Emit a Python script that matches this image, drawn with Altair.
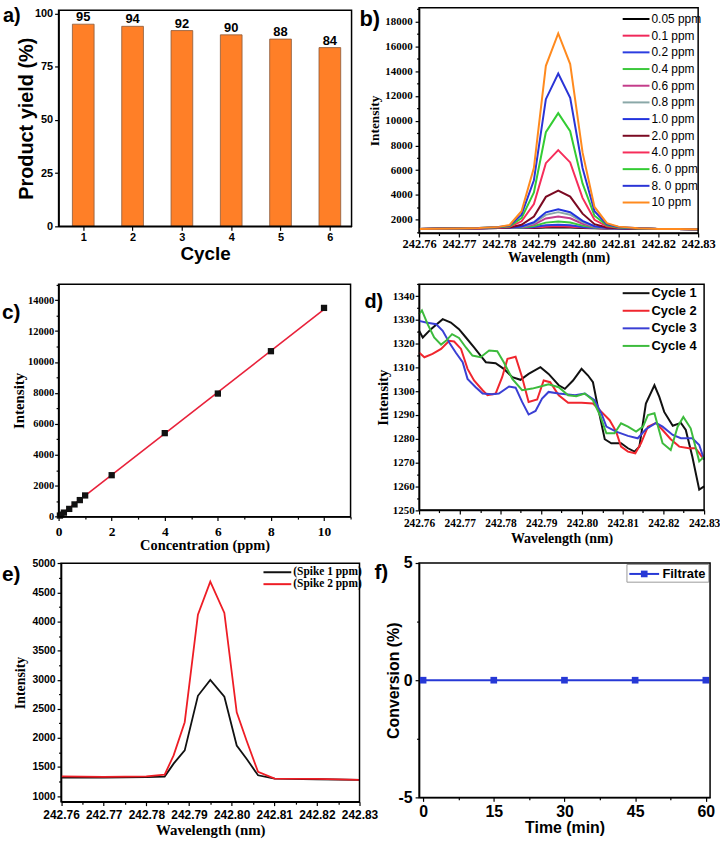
import altair as alt
import pandas as pd

SANS = "Liberation Sans"
SERIF = "Liberation Serif"

# ---------------- (a) recycling ----------------
cycles = [1, 2, 3, 4, 5, 6]
yields = [95, 94, 92, 90, 88, 84]

# ---------------- (b) spectra at several concentrations ----------------
wl_b = [242.760, 242.765, 242.770, 242.775, 242.780, 242.7827, 242.7857, 242.7888,
        242.7918, 242.7949, 242.7979, 242.8010, 242.8040, 242.8071, 242.810, 242.815,
        242.820, 242.825, 242.830]
conc_names = ["0.05 ppm", "0.1 ppm", "0.2 ppm", "0.4 ppm", "0.6 ppm", "0.8 ppm",
              "1.0 ppm", "2.0 ppm", "4.0 ppm", "6. 0 ppm", "8. 0 ppm", "10 ppm"]
conc_colors = ["#000000", "#f0285a", "#2b3de0", "#3cc83c", "#c43c8a", "#8aa8a8",
               "#2233dd", "#7b0a22", "#f62d5a", "#33cc33", "#2a34d6", "#ff8a1e"]
b_0p05 = [1250, 1260, 1280, 1300, 1330, 1330, 1325, 1335, 1365, 1380, 1365, 1330, 1310, 1290, 1280, 1260, 1250, 1240, 1230]
b_0p1 = [1250, 1260, 1280, 1300, 1330, 1330, 1335, 1360, 1435, 1460, 1435, 1360, 1320, 1295, 1280, 1260, 1250, 1240, 1230]
b_0p2 = [1250, 1260, 1280, 1300, 1330, 1335, 1345, 1405, 1550, 1600, 1555, 1415, 1335, 1300, 1280, 1260, 1250, 1240, 1230]
b_0p4 = [1250, 1260, 1280, 1300, 1335, 1340, 1370, 1485, 1765, 1860, 1770, 1520, 1360, 1305, 1285, 1260, 1250, 1240, 1230]
b_0p6 = [1250, 1260, 1280, 1300, 1335, 1345, 1405, 1610, 2105, 2265, 2115, 1675, 1405, 1315, 1290, 1260, 1250, 1240, 1230]
b_0p8 = [1250, 1260, 1280, 1300, 1340, 1350, 1435, 1715, 2395, 2610, 2405, 1810, 1445, 1325, 1295, 1260, 1250, 1240, 1230]
b_1p0 = [1250, 1260, 1280, 1300, 1340, 1355, 1455, 1790, 2595, 2850, 2605, 1905, 1470, 1330, 1295, 1260, 1250, 1240, 1230]
b_2p0 = [1250, 1260, 1280, 1305, 1350, 1375, 1585, 2255, 3845, 4350, 3870, 2490, 1635, 1370, 1310, 1270, 1250, 1240, 1230]
b_4p0 = [1250, 1260, 1280, 1315, 1370, 1425, 1870, 3270, 6570, 7620, 6630, 3765, 1995, 1460, 1345, 1280, 1250, 1240, 1230]
b_6p0 = [1250, 1260, 1280, 1320, 1385, 1470, 2130, 4200, 9070, 10610, 9150, 4930, 2320, 1540, 1375, 1290, 1250, 1240, 1230]
b_8p0 = [1250, 1260, 1280, 1325, 1405, 1520, 2410, 5190, 11740, 13820, 11850, 6180, 2680, 1630, 1405, 1300, 1250, 1240, 1230]
b_10 = [1250, 1260, 1280, 1330, 1420, 1570, 2690, 6190, 14440, 17050, 14580, 7440, 3030, 1720, 1440, 1310, 1250, 1240, 1230]
b_series = [b_0p05, b_0p1, b_0p2, b_0p4, b_0p6, b_0p8, b_1p0, b_2p0, b_4p0, b_6p0, b_8p0, b_10]

# ---------------- (c) calibration ----------------
conc_c = [0.05, 0.1, 0.2, 0.4, 0.6, 0.8, 1.0, 2.0, 4.0, 6.0, 8.0, 10.0]
int_c = [70, 130, 260, 500, 790, 1070, 1370, 2680, 5400, 7960, 10700, 13500]
fit_x = [0.0, 10.0]
fit_y = [20, 13400]

# ---------------- (d) leaching over cycles ----------------
d_names = ["Cycle 1", "Cycle 2", "Cycle 3", "Cycle 4"]
d_colors = ["#111111", "#f0262e", "#3a3fd4", "#3dbb3d"]
wl_d1 = [242.7600, 242.7609, 242.7629, 242.7658, 242.7678, 242.7698, 242.7715, 242.7735, 242.7751, 242.7764,
         242.7788, 242.7808, 242.7829, 242.7849, 242.7869, 242.7898, 242.7918, 242.7943, 242.7958, 242.7978,
         242.7999, 242.8015, 242.8027, 242.8039, 242.8056, 242.8072, 242.8096, 242.8113, 242.8129, 242.8141,
         242.8157, 242.8178, 242.8190, 242.8202, 242.8223, 242.8243, 242.8255, 242.8271, 242.8288, 242.8300]
int_d1 = [1325.4, 1322.6, 1326.1, 1330.3, 1328.9, 1326.1, 1322.6, 1318.4, 1315.0, 1312.2,
          1311.8, 1309.4, 1305.9, 1304.8, 1307.3, 1310.1, 1307.3, 1302.5, 1301.0, 1304.5,
          1309.4, 1306.6, 1303.8, 1293.4, 1279.8, 1278.1, 1278.1, 1276.0, 1274.6, 1276.7,
          1294.8, 1302.5, 1297.6, 1291.3, 1285.5, 1286.7, 1283.7, 1272.5, 1258.6, 1260.0]
wl_d2 = [242.7600, 242.7613, 242.7633, 242.7654, 242.7674, 242.7686, 242.7703, 242.7719, 242.7735, 242.7756,
         242.7768, 242.7788, 242.7804, 242.7817, 242.7837, 242.7853, 242.7869, 242.7890, 242.7906, 242.7922,
         242.7943, 242.7966, 242.7999, 242.8027, 242.8048, 242.8068, 242.8084, 242.8096, 242.8113, 242.8131,
         242.8145, 242.8162, 242.8182, 242.8198, 242.8218, 242.8239, 242.8263, 242.8279, 242.8300]
int_d2 = [1316.3, 1314.3, 1315.7, 1317.8, 1321.2, 1320.9, 1317.8, 1309.4, 1304.5, 1300.4,
          1298.3, 1299.0, 1305.9, 1313.6, 1314.5, 1305.9, 1295.5, 1296.5, 1304.5, 1303.8,
          1298.3, 1295.1, 1295.1, 1294.8, 1291.3, 1287.8, 1283.0, 1276.7, 1274.6, 1273.9,
          1278.1, 1285.1, 1286.7, 1283.7, 1279.8, 1276.7, 1276.0, 1276.0, 1271.2]
wl_d3 = [242.7600, 242.7617, 242.7642, 242.7658, 242.7674, 242.7690, 242.7707, 242.7719, 242.7739, 242.7756,
         242.7780, 242.7796, 242.7821, 242.7837, 242.7853, 242.7869, 242.7886, 242.7902, 242.7918, 242.7943,
         242.7983, 242.8007, 242.8031, 242.8048, 242.8060, 242.8084, 242.8113, 242.8137, 242.8157, 242.8182,
         242.8198, 242.8223, 242.8243, 242.8271, 242.8288, 242.8300]
int_d3 = [1329.6, 1328.9, 1328.2, 1325.4, 1320.5, 1316.3, 1312.2, 1305.2, 1301.7, 1299.0,
          1298.7, 1299.0, 1302.0, 1301.5, 1295.5, 1290.2, 1291.7, 1296.9, 1299.7, 1299.0,
          1298.3, 1299.0, 1296.2, 1290.6, 1285.1, 1283.0, 1281.2, 1280.2, 1284.0, 1286.7,
          1285.1, 1281.6, 1280.2, 1280.2, 1277.4, 1271.2]
wl_d4 = [242.7600, 242.7607, 242.7621, 242.7637, 242.7654, 242.7666, 242.7681, 242.7698, 242.7715, 242.7731,
         242.7751, 242.7772, 242.7792, 242.7808, 242.7829, 242.7853, 242.7878, 242.7898, 242.7918, 242.7943,
         242.7966, 242.7986, 242.8007, 242.8027, 242.8044, 242.8060, 242.8080, 242.8096, 242.8113, 242.8133,
         242.8150, 242.8162, 242.8178, 242.8198, 242.8218, 242.8235, 242.8249, 242.8267, 242.8288, 242.8300]
int_d4 = [1332.4, 1334.0, 1328.2, 1322.6, 1319.6, 1321.2, 1324.0, 1322.4, 1318.4, 1315.0,
          1314.3, 1317.1, 1316.8, 1312.2, 1305.2, 1300.4, 1301.1, 1302.0, 1302.9, 1301.7,
          1298.3, 1297.9, 1299.0, 1296.2, 1290.0, 1282.3, 1282.3, 1286.5, 1285.1, 1283.0,
          1285.1, 1290.0, 1290.7, 1278.1, 1275.3, 1285.1, 1289.2, 1284.4, 1270.5, 1272.5]

# ---------------- (e) spike recovery ----------------
e_names = ["(Spike 1 ppm)", "(Spike 2 ppm)"]
e_colors = ["#111111", "#ee1d25"]
wl_e = [242.760, 242.770, 242.780, 242.7843, 242.7864, 242.7890, 242.7921, 242.7950,
        242.7983, 242.8012, 242.8035, 242.8062, 242.8101, 242.820, 242.830]
spike1 = [1320, 1320, 1325, 1335, 1558, 1785, 2724, 2997, 2707, 1870, 1643, 1358, 1302, 1290, 1280]
spike2 = [1340, 1330, 1340, 1370, 1700, 2270, 4118, 4686, 4147, 2440, 1955, 1416, 1302, 1295, 1280]

# ---------------- (f) hot filtration ----------------
time_f = [0, 15, 30, 45, 60]
conv_f = [0, 0, 0, 0, 0]

# ---------------- tick lists ----------------
wl_ticks = [242.760, 242.765, 242.770, 242.775, 242.780, 242.785, 242.790, 242.795,
            242.800, 242.805, 242.810, 242.815, 242.820, 242.825, 242.830]
a_yticks = [0, 25, 50, 75, 100]
b_yticks = [1000, 2000, 3000, 4000, 5000, 6000, 7000, 8000, 9000, 10000, 11000, 12000,
            13000, 14000, 15000, 16000, 17000, 18000, 19000]
c_xticks = [0, 1, 2, 3, 4, 5, 6, 7, 8, 9, 10, 11]
c_yticks = [0, 1000, 2000, 3000, 4000, 5000, 6000, 7000, 8000, 9000, 10000, 11000,
            12000, 13000, 14000, 15000]
d_yticks = [1250, 1255, 1260, 1265, 1270, 1275, 1280, 1285, 1290, 1295, 1300, 1305,
            1310, 1315, 1320, 1325, 1330, 1335, 1340, 1345]
e_yticks = [1000, 1250, 1500, 1750, 2000, 2250, 2500, 2750, 3000, 3250, 3500, 3750,
            4000, 4250, 4500, 4750, 5000]
f_xticks = [0, 7.5, 15, 22.5, 30, 37.5, 45, 52.5, 60]
f_yticks = [-5, -2.5, 0, 2.5, 5]

# ---------------- panel geometry (plot box inside each grid cell) ----------------
PA = dict(ox=0, oy=2.3, pw=295, ph=217.7, vw=363, vh=278)
PB = dict(ox=0, oy=0, pw=281, ph=226.7, vw=281, vh=278)
PC = dict(ox=0, oy=0.3, pw=294, ph=234, vw=356, vh=280)
PD = dict(ox=0, oy=0.3, pw=287, ph=227.4, vw=287, vh=281)
PE = dict(ox=2.5, oy=0.3, pw=300.5, ph=240, vw=356, vh=240.3)
PF = dict(ox=0, oy=0, pw=293, ph=236, vw=293, vh=236)

one = pd.DataFrame({"k": [0]})


def xs(dom, P):
    return alt.Scale(domain=dom, range=[P["ox"], P["ox"] + P["pw"]], nice=False, zero=False)


def ys(dom, P):
    return alt.Scale(domain=dom, range=[P["oy"] + P["ph"], P["oy"]], nice=False, zero=False)


def mk_axis(title, values, test, lab, lfont, lsize, tfont, tsize, tpad, lpad, offset,
            major=4, minor=2.5):
    return alt.Axis(
        title=title, values=values,
        labelExpr="(" + test + ") ? " + lab + " : ''",
        tickSize={"condition": {"test": test, "value": major}, "value": minor},
        labelFont=lfont, labelFontSize=lsize, labelFontWeight="bold",
        titleFont=tfont, titleFontSize=tsize, titleFontWeight="bold",
        titlePadding=tpad, labelPadding=lpad, offset=offset,
        labelOverlap=False, labelFlush=False, grid=False,
        domainColor="black", domainWidth=1.5, tickColor="black", tickWidth=1.2,
        labelColor="black", titleColor="black")


def xoff(P):
    return P["oy"] + P["ph"] - P["vh"]


def frame(P):
    return alt.Chart(one).mark_rect(fill="white", fillOpacity=0, stroke="black", strokeWidth=1.5).encode(
        x=alt.value(P["ox"]), x2=alt.value(P["ox"] + P["pw"]),
        y=alt.value(P["oy"]), y2=alt.value(P["oy"] + P["ph"]))


def plabel(txt, x, y, size):
    return alt.Chart(one).mark_text(text=txt, font=SANS, fontWeight="bold", fontSize=size,
                                    align="left", baseline="alphabetic", color="black").encode(
        x=alt.value(x), y=alt.value(y))


def line_legend(lx, ly, half, font, size, weight, loff, rpad):
    return alt.Legend(orient="none", legendX=lx, legendY=ly,
                      symbolType="M-%s,0L%s,0" % (half, half), symbolSize=100,
                      symbolStrokeWidth=2, labelFont=font, labelFontSize=size,
                      labelFontWeight=weight, labelColor="black", labelOffset=loff,
                      rowPadding=rpad, padding=0)


WL_TEST = "abs(datum.value*100 - round(datum.value*100)) < 0.01"
WL_LAB = "format(datum.value, '.2f')"

# ================= panel a =================
df_a = pd.DataFrame({"cycle": cycles, "yield": yields})
ax_a_x = mk_axis("Cycle", cycles, "true", "datum.label", SANS, 11, SANS, 19, 2, 1, xoff(PA))
ax_a_y = mk_axis("Product yield (%)", a_yticks, "true", "datum.label", SANS, 11, SANS, 20, -2, 2, -PA["ox"])
sx_a = xs([0.5, 6.44], PA)
sy_a = ys([0, 101.6], PA)
bars_a = alt.Chart(df_a).transform_calculate(
    lo="datum.cycle - 0.22", hi="datum.cycle + 0.22"
).mark_rect(fill="#ff7f27", stroke="#8a5a3a", strokeWidth=0.8).encode(
    x=alt.X("lo:Q", scale=sx_a, axis=ax_a_x, title="Cycle"),
    x2="hi:Q",
    y=alt.Y("yield:Q", scale=sy_a, axis=ax_a_y, title="Product yield (%)"),
    y2=alt.datum(0))
text_a = alt.Chart(df_a).mark_text(font=SANS, fontWeight="bold", fontSize=13, dy=-7, color="black").encode(
    x=alt.X("cycle:Q", scale=sx_a, axis=ax_a_x, title="Cycle"),
    y=alt.Y("yield:Q", scale=sy_a, axis=ax_a_y, title="Product yield (%)"),
    text="yield:Q")
anchor = alt.Chart(one).mark_rect(opacity=0).encode(
    x=alt.value(-59), x2=alt.value(-58), y=alt.value(-5), y2=alt.value(-4))
panel_a = alt.layer(bars_a, text_a, frame(PA), plabel("a)", -56, 14.5, 20), anchor).properties(
    width=PA["vw"], height=PA["vh"])

# ================= panel b =================
rows = []
for name, vals in zip(conc_names, b_series):
    for w, v in zip(wl_b, vals):
        rows.append({"wl": w, "I": v, "conc": name})
df_b = pd.DataFrame(rows)
ax_b_x = mk_axis("Wavelength (nm)", wl_ticks, WL_TEST, WL_LAB, SERIF, 12.5, SERIF, 14, 0, 1, xoff(PB))
ax_b_y = mk_axis("Intensity", b_yticks, "datum.value % 2000 === 0", "'' + datum.value",
                 SERIF, 11, SERIF, 13.5, 3, 3, -PB["ox"])
lines_b = alt.Chart(df_b).mark_line(strokeWidth=2).encode(
    x=alt.X("wl:Q", scale=xs([242.76, 242.83], PB), axis=ax_b_x),
    y=alt.Y("I:Q", scale=ys([925, 19120], PB), axis=ax_b_y),
    color=alt.Color("conc:N", scale=alt.Scale(domain=conc_names, range=conc_colors), title=None,
                    legend=line_legend(212.5, 5.2, 2.7, SANS, 12, "normal", 9.5, 4.8)))
panel_b = alt.layer(lines_b, frame(PB), plabel("b)", -60, 18.3, 22)).properties(
    width=PB["vw"], height=PB["vh"])

# ================= panel c =================
df_c = pd.DataFrame({"conc": conc_c, "I": int_c})
df_fit = pd.DataFrame({"conc": fit_x, "I": fit_y})
ax_c_x = mk_axis("Concentration (ppm)", c_xticks, "datum.value % 2 === 0", "'' + datum.value",
                 SERIF, 13.5, SERIF, 14.5, 1, 4, xoff(PC))
ax_c_y = mk_axis("Intensity", c_yticks, "datum.value % 2000 === 0", "'' + datum.value",
                 SERIF, 10.5, SERIF, 15, 1, 1, -PC["ox"])
sx_c = xs([0, 11], PC)
sy_c = ys([0, 15030], PC)
fit_c = alt.Chart(df_fit).mark_line(color="#e8213a", strokeWidth=1.6).encode(
    x=alt.X("conc:Q", scale=sx_c, axis=ax_c_x),
    y=alt.Y("I:Q", scale=sy_c, axis=ax_c_y))
pts_c = alt.Chart(df_c).mark_point(shape="square", filled=True, size=40, color="#111111", opacity=1).encode(
    x=alt.X("conc:Q", scale=sx_c, axis=ax_c_x),
    y=alt.Y("I:Q", scale=sy_c, axis=ax_c_y))
panel_c = alt.layer(fit_c, pts_c, frame(PC), plabel("c)", -57, 35.3, 21)).properties(
    width=PC["vw"], height=PC["vh"])

# ================= panel d =================
rows = []
for name, wls, vals in zip(d_names, [wl_d1, wl_d2, wl_d3, wl_d4], [int_d1, int_d2, int_d3, int_d4]):
    for w, v in zip(wls, vals):
        rows.append({"wl": w, "I": v, "cyc": name})
df_d = pd.DataFrame(rows)
ax_d_x = mk_axis("Wavelength (nm)", wl_ticks, WL_TEST, WL_LAB, SERIF, 11.5, SERIF, 14, 2, 4, xoff(PD))
ax_d_y = mk_axis("Intensity", d_yticks, "datum.value % 10 === 0", "'' + datum.value",
                 SERIF, 11, SERIF, 15, 2, 1, -PD["ox"])
lines_d = alt.Chart(df_d).mark_line(strokeWidth=2).encode(
    x=alt.X("wl:Q", scale=xs([242.76, 242.83], PD), axis=ax_d_x),
    y=alt.Y("I:Q", scale=ys([1250, 1345], PD), axis=ax_d_y),
    color=alt.Color("cyc:N", scale=alt.Scale(domain=d_names, range=d_colors), title=None,
                    legend=line_legend(212, 2.8, 2.7, SANS, 13, "bold", 9, 3.7)))
panel_d = alt.layer(lines_d, frame(PD), plabel("d)", -55, 24.3, 20)).properties(
    width=PD["vw"], height=PD["vh"])

# ================= panel e =================
rows = []
for name, vals in zip(e_names, [spike1, spike2]):
    for w, v in zip(wl_e, vals):
        rows.append({"wl": w, "I": v, "spk": name})
df_e = pd.DataFrame(rows)
ax_e_x = mk_axis("Wavelength (nm)", wl_ticks, WL_TEST, WL_LAB, SANS, 12, SERIF, 15, 2, 4, xoff(PE))
ax_e_y = mk_axis("Intensity", e_yticks, "datum.value % 500 === 0", "'' + datum.value",
                 SANS, 10.5, SERIF, 14, 4, 2, -PE["ox"])
lines_e = alt.Chart(df_e).mark_line(strokeWidth=1.8).encode(
    x=alt.X("wl:Q", scale=xs([242.76, 242.83], PE), axis=ax_e_x),
    y=alt.Y("I:Q", scale=ys([905, 5000], PE), axis=ax_e_y),
    color=alt.Color("spk:N", scale=alt.Scale(domain=e_names, range=e_colors), title=None,
                    legend=line_legend(214.3, 3.3, 2.8, SERIF, 11.5, "bold", 10, 0)))
panel_e = alt.layer(lines_e, frame(PE), plabel("e)", -57, 17.7, 21)).properties(
    width=PE["vw"], height=PE["vh"])

# ================= panel f =================
df_f = pd.DataFrame({"t": time_f, "conv": conv_f})
BLUE = "#2638d6"
ax_f_x = mk_axis("Time (min)", f_xticks, "datum.value % 15 === 0", "'' + datum.value",
                 SANS, 16, SANS, 16, 0, 2, xoff(PF))
ax_f_y = mk_axis("Conversion (%)", f_yticks, "datum.value % 5 === 0", "'' + datum.value",
                 SANS, 16, SANS, 16, -3, 3, -PF["ox"])
sx_f = xs([-0.85, 60.9], PF)
sy_f = ys([-5, 5], PF)
line_f = alt.Chart(df_f).mark_line(color=BLUE, strokeWidth=2).encode(
    x=alt.X("t:Q", scale=sx_f, axis=ax_f_x),
    y=alt.Y("conv:Q", scale=sy_f, axis=ax_f_y))
pts_f = alt.Chart(df_f).mark_point(shape="square", filled=True, size=45, color=BLUE, opacity=1).encode(
    x=alt.X("t:Q", scale=sx_f, axis=ax_f_x),
    y=alt.Y("conv:Q", scale=sy_f, axis=ax_f_y))
leg_box = alt.Chart(one).mark_rect(fill="white", stroke="#9a9a9a", strokeWidth=1).encode(
    x=alt.value(209.3), x2=alt.value(291.7), y=alt.value(1.5), y2=alt.value(19.3))
leg_line = alt.Chart(one).mark_rule(color=BLUE, strokeWidth=2).encode(
    x=alt.value(211.7), x2=alt.value(241.7), y=alt.value(11))
leg_pt = alt.Chart(one).mark_point(shape="square", filled=True, size=45, color=BLUE, opacity=1).encode(
    x=alt.value(226.7), y=alt.value(11))
leg_txt = alt.Chart(one).mark_text(text="Filtrate", font=SANS, fontWeight="bold", fontSize=13,
                                   align="left", baseline="middle", color="black").encode(
    x=alt.value(245), y=alt.value(11))
panel_f = alt.layer(line_f, pts_f, leg_box, leg_line, leg_pt, leg_txt, frame(PF),
                    plabel("f)", -45, 16, 21)).properties(width=PF["vw"], height=PF["vh"])

chart = alt.concat(panel_a, panel_b, panel_c, panel_d, panel_e, panel_f, columns=2,
                   spacing=0, bounds="flush", align="none").resolve_scale(
    color="independent").properties(padding=0).configure_view(strokeWidth=0)

chart.save("out.html", embed_options={"renderer": "svg", "actions": False})
